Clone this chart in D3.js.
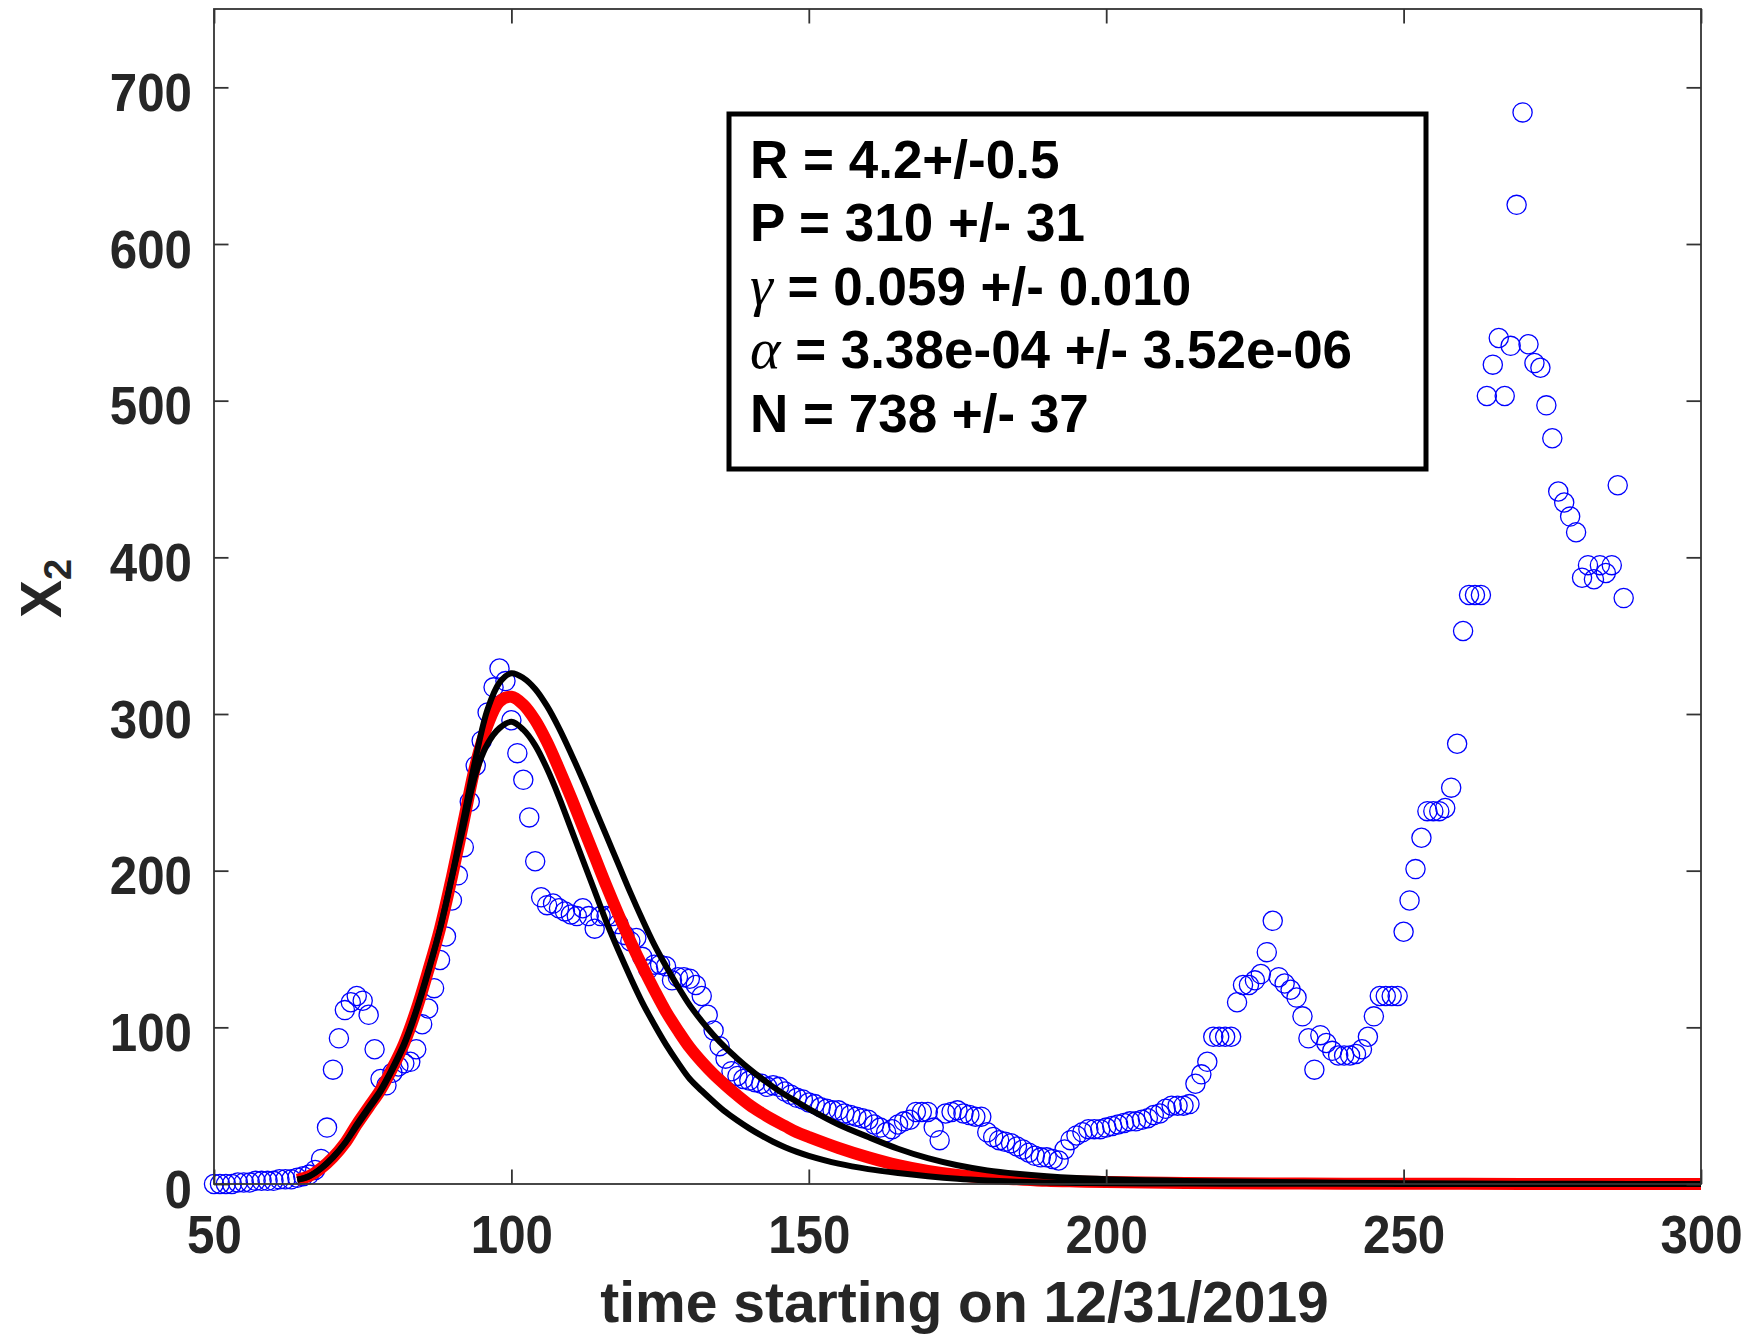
<!DOCTYPE html>
<html>
<head>
<meta charset="utf-8">
<script src="https://cdn.jsdelivr.net/npm/d3@7"></script>
<style>
  html, body { margin: 0; padding: 0; background: #ffffff; }
  svg { display: block; }
  text { font-family: "Liberation Sans", Arial, Helvetica, sans-serif; }
</style>
</head>
<body>
<svg id="chart" width="1750" height="1335"></svg>
<script>
// ---------------- data ----------------
const xTicks = [50, 100, 150, 200, 250, 300];
const yTicks = [0, 100, 200, 300, 400, 500, 600, 700];

const firstDay = 50;
// observed X2 values, one per day starting at day 50
const observed = [
  0, 0, 0, 0, 1, 1, 1, 2, 2, 2,            // 50-59
  2, 3, 3, 3, 4, 5, 6, 9, 16, 36,          // 60-69
  73, 93, 111, 116, 120, 117, 108, 86, 67, 63, // 70-79
  71, 75, 77, 78, 86, 102, 112, 125, 143, 158, // 80-89
  181, 197, 215, 244, 267, 283, 301, 317, 329, 321, // 90-99
  296, 275, 258, 234, 206, 183, 178, 179, 176, 174, // 100-109
  172, 171, 176, 171, 163, 171, 171, 171, 166, 159, // 110-119
  155, 157, 145, 137, 140, 140, 139, 130, 132, 132, // 120-129
  131, 127, 120, 108, 98, 88, 80, 72, 69, 67,   // 130-139
  66, 65, 64, 62, 63, 62, 59, 57, 55, 54,       // 140-149
  52, 51, 49, 48, 47, 47, 45, 44, 43, 42,       // 150-159
  41, 38, 36, 33, 35, 38, 40, 41, 46, 46,       // 160-169
  46, 36, 28, 45, 46, 47, 45, 44, 43, 43,       // 170-179
  33, 30, 28, 27, 26, 24, 22, 20, 18, 17,       // 180-189
  17, 16, 15, 22, 28, 31, 33, 35, 35, 35,       // 190-199
  36, 37, 38, 39, 40, 40, 41, 42, 44, 45,       // 200-209
  48, 50, 50, 50, 51, 64, 70, 78, 94, 94,       // 210-219
  94, 94, 116, 127, 127, 130, 134, 148, 168, 132, // 220-229
  128, 124, 119, 107, 93, 73, 95, 90, 85, 82,   // 230-239
  82, 82, 83, 86, 94, 107, 120, 120, 120, 120,  // 240-249
  161, 181, 201, 221, 238, 238, 238, 240, 253, 281, // 250-259
  353, 376, 376, 376, 503, 523, 540, 503, 535, 625, // 260-269
  684, 536, 524, 521, 497, 476, 442, 435, 426, 416, // 270-279
  387, 395, 386, 395, 390, 395, 446, 374           // 280-287
];

// fitted model curves, sampled at these days
const curveDays = [64, 66, 68, 70, 72, 74, 76, 78, 80, 82, 84, 86, 88, 90, 92, 94, 96, 98, 100,
  102, 104, 106, 108, 110, 112, 114, 116, 118, 120, 122, 124, 126, 128, 130, 132, 134, 136, 138,
  140, 142, 144, 146, 148, 150, 155, 160, 165, 170, 175, 180, 185, 190, 195, 200, 210, 220, 240,
  260, 280, 300];
const fitBest = [2.7, 5, 10, 17, 26, 38, 49, 60, 74, 90, 111, 136, 163, 196, 232, 268, 293, 308, 311,
  306, 296, 282, 265, 247, 228, 209, 190, 172, 155, 139, 124, 110, 98, 87, 78, 70, 63, 56.5,
  50.5, 45.5, 41, 37, 33, 30, 23, 17, 12, 8.3, 5.7, 4, 3, 2.1, 1.6, 1.2, 0.8, 0.5, 0.2,
  0.1, 0.05, 0];
const fitUpper = [2.7, 5, 10, 17, 26, 37, 48, 59, 73, 89, 110, 135, 163, 196, 234, 272, 303, 320, 326,
  323, 316, 305, 291, 275, 258, 240, 222, 204, 186, 169, 153, 139, 126, 114, 104, 95, 87, 80,
  73.5, 67.5, 62, 57, 52.5, 48, 38, 30, 22.5, 16.5, 12, 8.7, 6.5, 4.9, 3.8, 3.1, 2.2, 1.6, 0.8,
  0.3, 0.1, 0];
const fitLower = [2.7, 5, 10, 17, 26, 38, 49, 60, 74, 90, 111, 136, 163, 196, 229, 262, 281, 291, 295,
  290, 280, 265, 247, 227, 207, 187, 167, 149, 132, 116, 102, 89, 77.5, 67, 59.5, 52.5, 46, 40.5,
  35.5, 31, 27, 23.5, 20.5, 18, 13, 9.5, 7, 5, 3.4, 2.3, 1.5, 1, 0.7, 0.5, 0.3, 0.2, 0.1,
  0, 0, 0];

const paramLines = [
  { sym: null, text: "R = 4.2+/-0.5" },
  { sym: null, text: "P = 310 +/- 31" },
  { sym: "\u03B3", text: " = 0.059 +/- 0.010" },
  { sym: "\u03B1", text: " = 3.38e-04 +/- 3.52e-06" },
  { sym: null, text: "N = 738 +/- 37" }
];

// ---------------- layout ----------------
const X0 = 214, X1 = 1701, Y0 = 1184, Y1 = 9;
const svg = d3.select("#chart");
const x = d3.scaleLinear().domain([50, 300]).range([X0, X1]);
const y = d3.scaleLinear().domain([0, 750]).range([Y0, Y1]);
const axisColor = "#333333";
const tickLen = 14.5;
const sx = 0.93;        // horizontal squeeze of the bold labels

// observed points
const obs = observed.map((v, i) => ({ d: firstDay + i, v }));
svg.append("g")
  .selectAll("circle")
  .data(obs)
  .join("circle")
  .attr("cx", d => x(d.d))
  .attr("cy", d => y(d.v))
  .attr("r", 9.6)
  .attr("fill", "none")
  .attr("stroke", "#0000ff")
  .attr("stroke-width", 1.3);

// fit curves
const line = d3.line()
  .x(d => x(d[0]))
  .y(d => y(d[1]))
  .curve(d3.curveCatmullRom.alpha(0.5));

svg.append("path")
  .attr("d", line(curveDays.map((d, i) => [d, fitBest[i]])))
  .attr("fill", "none")
  .attr("stroke", "#ff0000")
  .attr("stroke-width", 12)
  .attr("stroke-linejoin", "round");

[fitUpper, fitLower].forEach(arr => {
  svg.append("path")
    .attr("d", line(curveDays.map((d, i) => [d, arr[i]])))
    .attr("fill", "none")
    .attr("stroke", "#000000")
    .attr("stroke-width", 6)
    .attr("stroke-linejoin", "round");
});

// axes (ticks inward on all four sides)
const fontTick = 53;
const gB = svg.append("g").attr("transform", `translate(0,${Y0})`)
  .call(d3.axisBottom(x).tickValues(xTicks).tickSizeInner(-tickLen).tickSizeOuter(0).tickFormat(d3.format("d")));
const gT = svg.append("g").attr("transform", `translate(0,${Y1})`)
  .call(d3.axisTop(x).tickValues(xTicks).tickSizeInner(-tickLen).tickSizeOuter(0).tickFormat(""));
const gL = svg.append("g").attr("transform", `translate(${X0},0)`)
  .call(d3.axisLeft(y).tickValues(yTicks).tickSizeInner(-tickLen).tickSizeOuter(0).tickFormat(d3.format("d")));
const gR = svg.append("g").attr("transform", `translate(${X1},0)`)
  .call(d3.axisRight(y).tickValues(yTicks).tickSizeInner(-tickLen).tickSizeOuter(0).tickFormat(""));

[gB, gT, gL, gR].forEach(g => {
  g.select(".domain").remove();
  g.selectAll(".tick line").attr("stroke", axisColor).attr("stroke-width", 1.8);
  g.selectAll("text")
    .attr("fill", "#262626")
    .attr("font-size", fontTick)
    .attr("font-weight", "bold")
    .attr("font-family", "'Liberation Sans', Arial, Helvetica, sans-serif");
});
gB.selectAll("text").attr("y", 69).attr("dy", 0).attr("x", 0)
  .attr("transform", `scale(${sx},1)`);
gL.selectAll("text").attr("x", -22 / sx).attr("dy", 23).attr("transform", `scale(${sx},1)`);

// axes box
svg.append("rect")
  .attr("x", X0).attr("y", Y1)
  .attr("width", X1 - X0).attr("height", Y0 - Y1)
  .attr("fill", "none")
  .attr("stroke", axisColor)
  .attr("stroke-width", 1.8);

// axis titles
svg.append("text")
  .attr("x", (X0 + X1) / 2 + 7)
  .attr("y", 1322)
  .attr("text-anchor", "middle")
  .attr("font-size", 57)
  .attr("font-weight", "bold")
  .attr("fill", "#262626")
  .text("time starting on 12/31/2019");

const yl = svg.append("text")
  .attr("transform", `translate(61,${(Y0 + Y1) / 2 - 8}) rotate(-90)`)
  .attr("text-anchor", "middle")
  .attr("font-size", 57)
  .attr("font-weight", "bold")
  .attr("fill", "#262626");
yl.append("tspan").text("X");
yl.append("tspan").attr("font-size", 38).attr("dy", 10).text("2");

// parameter box
const box = { x: 729, y: 114, w: 697, h: 355 };
svg.append("rect")
  .attr("x", box.x).attr("y", box.y)
  .attr("width", box.w).attr("height", box.h)
  .attr("fill", "#ffffff")
  .attr("stroke", "#000000")
  .attr("stroke-width", 5);

const lineY0 = 178, lineStep = 63.4;
paramLines.forEach((p, i) => {
  const t = svg.append("text")
    .attr("x", 750)
    .attr("y", lineY0 + i * lineStep)
    .attr("font-size", 53)
    .attr("font-weight", "bold")
    .attr("fill", "#000000");
  if (p.sym) {
    t.append("tspan")
      .attr("font-family", "'Liberation Serif', 'DejaVu Serif', serif")
      .attr("font-style", "italic")
      .attr("font-weight", "normal")
      .attr("font-size", 58)
      .text(p.sym);
  }
  t.append("tspan").text(p.text);
});
</script>
</body>
</html>
